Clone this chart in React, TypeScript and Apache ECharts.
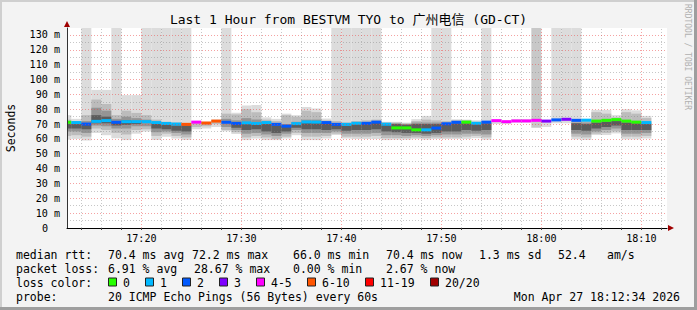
import React, { useEffect, useRef } from "react";
import * as echarts from "echarts";

// ---------- texts ----------
const TITLE = "Last 1 Hour from BESTVM TYO to 广州电信 (GD-CT)";
const Y_NAME = "Seconds";
const WATERMARK = "RRDTOOL / TOBI OETIKER";

// ---------- time window (minutes after 17:00) ----------
const FIRST_MINUTE = 12; // first column = 17:12
const WINDOW_START = 12 + 34 / 60; // 17:12:34
const WINDOW_END = 72 + 34 / 60; // 18:12:34
const Y_MAX = 134.68;
const X_LABEL_VALUES = [20, 30, 40, 50, 60, 70];
const Y_LABEL_STEP = 10;

const T = 135; // reaches above the top of the plot (clipped)

// ---------- smoke layers, one value per minute (ms) ----------
// lightest
const L1_LO = [
  59.5, 60, 59, 64, 62.5, 60.5, 59.2, 63.5, 65, 59.2,
  61.5, 60.3, 59.2, 66.5, 67, 68, 65.2, 63.3, 59.2, 60.3,
  59.2, 59.2, 60.3, 62.5, 59.2, 59.2, 60.3, 62.6, 60.3, 60,
  60, 60, 59.2, 59.5, 59.5, 60, 59.5, 60, 60, 60,
  60, 60.5, 59.5, 70, 70, 71, 71, null, 68, 70.5,
  70.5, 59.7, 59.3, 62.6, 62.6, 63.7, 59.7, 59.7, 60.3,
];
const L1_HI = [
  76, 73.5, T, 93, 93, T, 89.5, 89.5, T, T,
  T, T, T, 72, 71.5, 73, T, 77.6, 82.5, 82.8,
  74.5, 73.5, 77, 76, 81.5, 80.5, 73.7, T, T, T,
  T, T, 71.5, 71.5, 71, 73.3, 75.5, T, T, 73.2,
  73, 72.5, T, 72, 71.5, 73.3, 73.3, null, 72, T,
  T, T, 73.4, 79.5, 79.5, 76, 80, 79.2, 75.5,
];
// darker tall column
const LT_LO = [
  null, null, null, null, null, null, null, null, null, null,
  null, null, null, null, null, null, null, null, null, null,
  null, null, null, null, null, null, null, null, null, null,
  null, null, null, null, null, null, null, null, null, null,
  null, null, null, null, null, null, null, 67.5, null, null,
  null, null, null, null, null, null, null, null, null,
];
const LT_HI = [
  null, null, null, null, null, null, null, null, null, null,
  null, null, null, null, null, null, null, null, null, null,
  null, null, null, null, null, null, null, null, null, null,
  null, null, null, null, null, null, null, null, null, null,
  null, null, null, null, null, null, null, T, null, null,
  null, null, null, null, null, null, null, null, null,
];
// mid
const L2_LO = [
  62, 62.5, 61.5, 67, 66, 64, 63, 66, 66.5, 62,
  63.5, 62, 61, 68, 68.5, 70, 66, 64.5, 61, 62,
  61, 60, 61.5, 64, 61.5, 61.5, 62, 63.5, 61.5, 61.5,
  61.5, 62, 60.5, 60.5, 60.5, 61, 60.5, 61, 61, 61,
  61.5, 62, 61, null, null, null, null, null, null, null,
  null, 61.5, 61, 63.5, 64, 65, 61.5, 61.5, 62,
];
const L2_HI = [
  73, 72, 76, 86.5, 83.5, 76, 79, 77.5, 76, 73,
  71.5, 71, 70.5, 71, 70.8, 72.5, 77, 76.5, 80, 78,
  73, 72, 76, 75, 79, 78, 72.5, 72, 71, 72,
  72.5, 73, 71, 71, 70.5, 72, 73, 72.5, 72, 72.5,
  72.5, 71.5, 72, null, null, null, null, null, null, null,
  null, 72, 72, 78, 77, 74.5, 78, 77, 74,
];
// dark
const L3_LO = [
  65, 65, 64, 69, 68.5, 67, 67, 68.5, 68.5, 64.5,
  65, 64, 63, null, null, null, 68, 66, 63.5, 64,
  63, 62, 63.5, 66, 64, 64, 64, 65, 63.5, 63.5,
  63.5, 64, 62.5, 62.5, 62, 62.5, 62, 62.5, 63, 63,
  63.5, 63.5, 63, null, null, null, null, null, null, null,
  null, 63.5, 63, 65, 66, 67, 63.5, 63.5, 64,
];
const L3_HI = [
  71, 71, 72, 81, 79, 73.5, 75, 74, 73, 71,
  70.5, 70, 69.5, null, null, null, 73.5, 72.5, 74, 73,
  71.5, 70.5, 70, 71.5, 73, 73, 71.5, 70, 70, 70.5,
  71, 72, 70, 70.5, 70, 71, 71, 71, 70.5, 71,
  71, 70.5, 71, null, null, null, null, null, null, null,
  null, 71, 71, 72, 72.5, 73, 72, 71.5, 71,
];
// darkest core
const L4_LO = [
  67, 67, 66.5, 70.5, 70.5, 69, 69.5, 70, null, 67,
  66.5, 65.5, 65, null, null, null, null, 67.5, 66, 66.5,
  65, 64, 65, 67.5, 66.5, 66.5, 66, 66.5, 65.5, 66,
  66, 66.5, 65, 64.5, 64, 64, 63.5, 64, 65, 65,
  66, 65.5, 66, null, null, null, null, null, null, null,
  null, 66, 65.5, 67, 68, 69, 66, 66, 66,
];
const L4_HI = [
  70, 70, 70, 76, 75, 71.5, 72.5, 72, null, 70.5,
  69.5, 69, 69, null, null, null, null, 71, 70.5, 70.5,
  70, 69, 68.5, 70, 71, 71, 70.5, 69.5, 69, 70,
  70, 71, 69.5, 70, 69.5, 70, 70, 70, 70, 70.5,
  70.5, 70, 70.5, null, null, null, null, null, null, null,
  null, 70.5, 70, 71, 71.5, 72, 71, 70.5, 70,
];

// median rtt (ms) and loss bucket index per minute
const MEDIAN = [
  71.2, 71.0, 70.0, 71.8, 72.3, 71.2, 71.6, 71.6, 71.6, 71.0,
  70.4, 70.0, 69.8, 71.3, 70.7, 72.0, 71.2, 70.4, 70.8, 70.4,
  71.0, 69.8, 68.6, 70.3, 71.4, 71.3, 71.0, 69.8, 69.8, 70.5,
  70.5, 71.3, 69.9, 67.4, 67.4, 66.1, 66.1, 67.3, 70.2, 71.2,
  71.3, 70.5, 71.3, 72.3, 71.6, 72.1, 72.1, 72.5, 72.0, 72.8,
  73.2, 72.5, 72.6, 72.0, 72.5, 73.0, 72.0, 71.3, 71.0,
];
const LOSS = [
  0, 1, 2, 1, 1, 2, 1, 1, 1, 1,
  1, 1, 5, 4, 5, 5, 2, 2, 1, 1,
  1, 2, 2, 1, 1, 1, 2, 2, 1, 1,
  2, 2, 1, 0, 0, 0, 1, 2, 2, 2,
  0, 1, 2, 4, 4, 4, 4, 4, 3, 2,
  3, 2, 1, 0, 0, 0, 0, 0, 1,
];

const LOSS_LABELS = ["0", "1", "2", "3", "4-5", "6-10", "11-19", "20/20"];
const LOSS_COLORS = ["#26ff00", "#00b8ff", "#0059ff", "#7e00ff", "#ff00ff", "#ff5500", "#ff0000", "#a10000"];

// legend statistics
const RTT_HEAD = "median rtt:";
const RTT_STATS = ["70.4 ms avg", "72.2 ms max", "66.0 ms min", "70.4 ms now", "1.3 ms sd", "52.4", "am/s"];
const LOSS_HEAD = "packet loss:";
const LOSS_STATS = ["6.91 % avg", "28.67 % max", "0.00 % min", "2.67 % now"];
const COLOR_HEAD = "loss color:";
const PROBE_HEAD = "probe:";
const PROBE_TEXT = "20 ICMP Echo Pings (56 Bytes) every 60s";
const STAMP = "Mon Apr 27 18:12:34 2026";

// ---------- styling ----------
const MONO = "'DejaVu Sans Mono', monospace";
const MONO_CJK = "'DejaVu Sans Mono', 'Noto Sans CJK SC', monospace";
const GRID_L = 67, GRID_T = 28, GRID_W = 600, GRID_H = 200;
const LAYER_COLORS = { l1: "#dcdcdc", lt: "#c8c8c8", l2: "#bcbcbc", l3: "#949494", l4: "#5c5c5c" };
const MAJOR = "rgba(235,70,70,0.5)";
const MINOR = "rgba(130,130,130,0.45)";

function clip(r: any, c: any) {
  const x0 = Math.max(r.x, c.x), y0 = Math.max(r.y, c.y);
  const x1 = Math.min(r.x + r.width, c.x + c.width), y1 = Math.min(r.y + r.height, c.y + c.height);
  if (x1 <= x0 || y1 <= y0) return null;
  return { x: x0, y: y0, width: x1 - x0, height: y1 - y0 };
}

function layerData(lo: (number | null)[], hi: (number | null)[]) {
  const out: number[][] = [];
  lo.forEach((v, k) => {
    if (v != null && hi[k] != null) out.push([FIRST_MINUTE + k, FIRST_MINUTE + k + 1, v, hi[k] as number]);
  });
  return out;
}

function smokeSeries(name: string, lo: any[], hi: any[], fill: string, extra: any = {}) {
  return {
    type: "custom",
    name,
    z: 2,
    silent: true,
    data: layerData(lo, hi),
    renderItem: (params: any, api: any) => {
      const a = api.coord([api.value(0), api.value(3)]);
      const b = api.coord([api.value(1), api.value(2)]);
      const cs = params.coordSys;
      const shape = clip({ x: a[0], y: a[1], width: b[0] - a[0], height: b[1] - a[1] }, cs);
      if (!shape) return null;
      return { type: "rect", shape, style: { fill } };
    },
    ...extra,
  };
}

function fmtTime(v: number) {
  const h = 17 + Math.floor(v / 60);
  const m = Math.round(v % 60);
  return `${h}:${String(m).padStart(2, "0")}`;
}

function buildOption() {
  const xGrid: any[] = [];
  for (let v = 14; v <= 72; v += 2) {
    xGrid.push({ xAxis: v, lineStyle: { color: v % 10 === 0 ? MAJOR : MINOR, type: [1, 2], width: 1 } });
  }
  const yGrid: any[] = [];
  for (let v = 5; v <= 130; v += 5) {
    yGrid.push({ yAxis: v, lineStyle: { color: v % 10 === 0 ? MAJOR : MINOR, type: [1, 2], width: 1 } });
  }
  const xTicks: number[] = [];
  for (let v = 14; v <= 72; v += 2) xTicks.push(v);

  const medianData = MEDIAN.map((m, k) => [FIRST_MINUTE + k, FIRST_MINUTE + k + 1, m, LOSS[k]]);

  const rowY = [254.5, 268.5, 282.5, 296.5];
  const txt = (text: string, x: number, y: number, extra: any = {}) => ({
    type: "text",
    x,
    y,
    silent: true,
    style: { text, fill: "#000", font: `11.5px ${MONO}`, align: "left", verticalAlign: "middle", ...extra },
  });

  const rttX = [108, 192, 293, 386, 479, 558, 607];
  const lossX = [108, 194, 293, 386];
  const boxX = [108, 145, 182, 219, 256, 307, 365, 430];

  const graphics: any[] = [
    // frame shading
    { type: "rect", silent: true, shape: { x: 0, y: 0, width: 697, height: 2 }, style: { fill: "#cfcfcf" } },
    { type: "rect", silent: true, shape: { x: 0, y: 0, width: 2, height: 310 }, style: { fill: "#cfcfcf" } },
    { type: "rect", silent: true, shape: { x: 0, y: 307, width: 697, height: 3 }, style: { fill: "#9e9e9e" } },
    { type: "rect", silent: true, shape: { x: 694, y: 0, width: 3, height: 310 }, style: { fill: "#9e9e9e" } },
    // axis arrows
    { type: "polygon", silent: true, z: 10, shape: { points: [[64, 27], [70, 27], [67, 21]] }, style: { fill: "#a00000" } },
    { type: "polygon", silent: true, z: 10, shape: { points: [[668, 225], [668, 231], [674, 228]] }, style: { fill: "#a00000" } },
    // y unit
    {
      type: "text", silent: true, x: 10.5, y: 128, rotation: Math.PI / 2,
      style: { text: Y_NAME, fill: "#000", font: `11.5px ${MONO}`, align: "center", verticalAlign: "middle" },
    },
    // watermark
    {
      type: "text", silent: true, x: 687.5, y: 4, rotation: -Math.PI / 2,
      style: { text: WATERMARK, fill: "#b0b0b0", font: `8px ${MONO}`, align: "left", verticalAlign: "middle", letterSpacing: 1.5 } as any,
    },
    txt(RTT_HEAD, 16, rowY[0]),
    ...RTT_STATS.map((s, i) => txt(s, rttX[i], rowY[0])),
    txt(LOSS_HEAD, 16, rowY[1]),
    ...LOSS_STATS.map((s, i) => txt(s, lossX[i], rowY[1])),
    txt(COLOR_HEAD, 16, rowY[2]),
    ...LOSS_LABELS.map((s, i) => ({
      type: "rect", silent: true,
      shape: { x: boxX[i] + 0.5, y: rowY[2] - 4.5, width: 8, height: 8 },
      style: { fill: LOSS_COLORS[i], stroke: "#222", lineWidth: 1 },
    })),
    ...LOSS_LABELS.map((s, i) => txt(s, boxX[i] + 15, rowY[2])),
    txt(PROBE_HEAD, 16, rowY[3]),
    txt(PROBE_TEXT, 108, rowY[3]),
    txt(STAMP, 680, rowY[3], { align: "right" }),
  ];

  return {
    animation: false,
    backgroundColor: "#f3f3f3",
    title: {
      text: TITLE,
      left: "center",
      top: 13,
      padding: 0,
      textStyle: { fontFamily: MONO_CJK, fontSize: 13, fontWeight: "normal", color: "#000" },
    },
    grid: {
      left: GRID_L, top: GRID_T, width: GRID_W, height: GRID_H,
      show: true, backgroundColor: "#ffffff", borderWidth: 0,
      containLabel: false, outerBoundsMode: "none",
    },
    xAxis: {
      type: "value",
      min: WINDOW_START,
      max: WINDOW_END,
      z: 6,
      axisLine: { show: true, onZero: false, lineStyle: { color: "#000", width: 1 } },
      axisTick: { show: true, customValues: xTicks, length: 2, lineStyle: { color: "#444" } },
      axisLabel: {
        customValues: X_LABEL_VALUES,
        margin: 5,
        color: "#000",
        fontFamily: MONO,
        fontSize: 10.1,
        formatter: (v: number) => (Math.abs(v % 10) < 1e-6 ? fmtTime(v) : ""),
      },
      splitLine: { show: false },
    },
    yAxis: {
      type: "value",
      min: 0,
      max: Y_MAX,
      interval: Y_LABEL_STEP,
      z: 6,
      axisLine: { show: true, lineStyle: { color: "#333", width: 1 } },
      axisTick: { show: false },
      splitLine: { show: false },
      axisLabel: {
        margin: 7,
        color: "#000",
        fontFamily: MONO,
        fontSize: 10.1,
        formatter: (v: number) => (v > 130.5 ? "" : v === 0 ? "{z|0}" : `${v} m`),
        rich: { z: { fontFamily: MONO, fontSize: 10.1, color: "#000", padding: [0, 12, 0, 0] } },
      },
    },
    series: [
      smokeSeries("smoke-1", L1_LO, L1_HI, LAYER_COLORS.l1, {
        markLine: {
          silent: true,
          symbol: ["none", "none"],
          label: { show: false },
          animation: false,
          data: [...xGrid, ...yGrid],
        },
      }),
      smokeSeries("smoke-tall", LT_LO, LT_HI, LAYER_COLORS.lt),
      smokeSeries("smoke-2", L2_LO, L2_HI, LAYER_COLORS.l2),
      smokeSeries("smoke-3", L3_LO, L3_HI, LAYER_COLORS.l3),
      smokeSeries("smoke-4", L4_LO, L4_HI, LAYER_COLORS.l4),
      {
        type: "custom",
        name: "median",
        z: 3,
        silent: true,
        data: medianData,
        renderItem: (params: any, api: any) => {
          const a = api.coord([api.value(0), api.value(2)]);
          const b = api.coord([api.value(1), api.value(2)]);
          const cs = params.coordSys;
          const shape = clip({ x: a[0], y: a[1] - 1.5, width: b[0] - a[0], height: 3 }, cs);
          if (!shape) return null;
          return { type: "rect", shape, style: { fill: LOSS_COLORS[api.value(3)] } };
        },
      },
    ],
    graphic: { elements: graphics },
  };
}

export default function App() {
  const ref = useRef<HTMLDivElement>(null);
  useEffect(() => {
    if (!ref.current) return;
    const chart = echarts.init(ref.current, undefined, { renderer: "svg", width: 697, height: 310 });
    chart.setOption(buildOption() as any);
    return () => chart.dispose();
  }, []);
  return <div ref={ref} style={{ position: "absolute", left: 0, top: 0, width: 697, height: 310 }} />;
}
